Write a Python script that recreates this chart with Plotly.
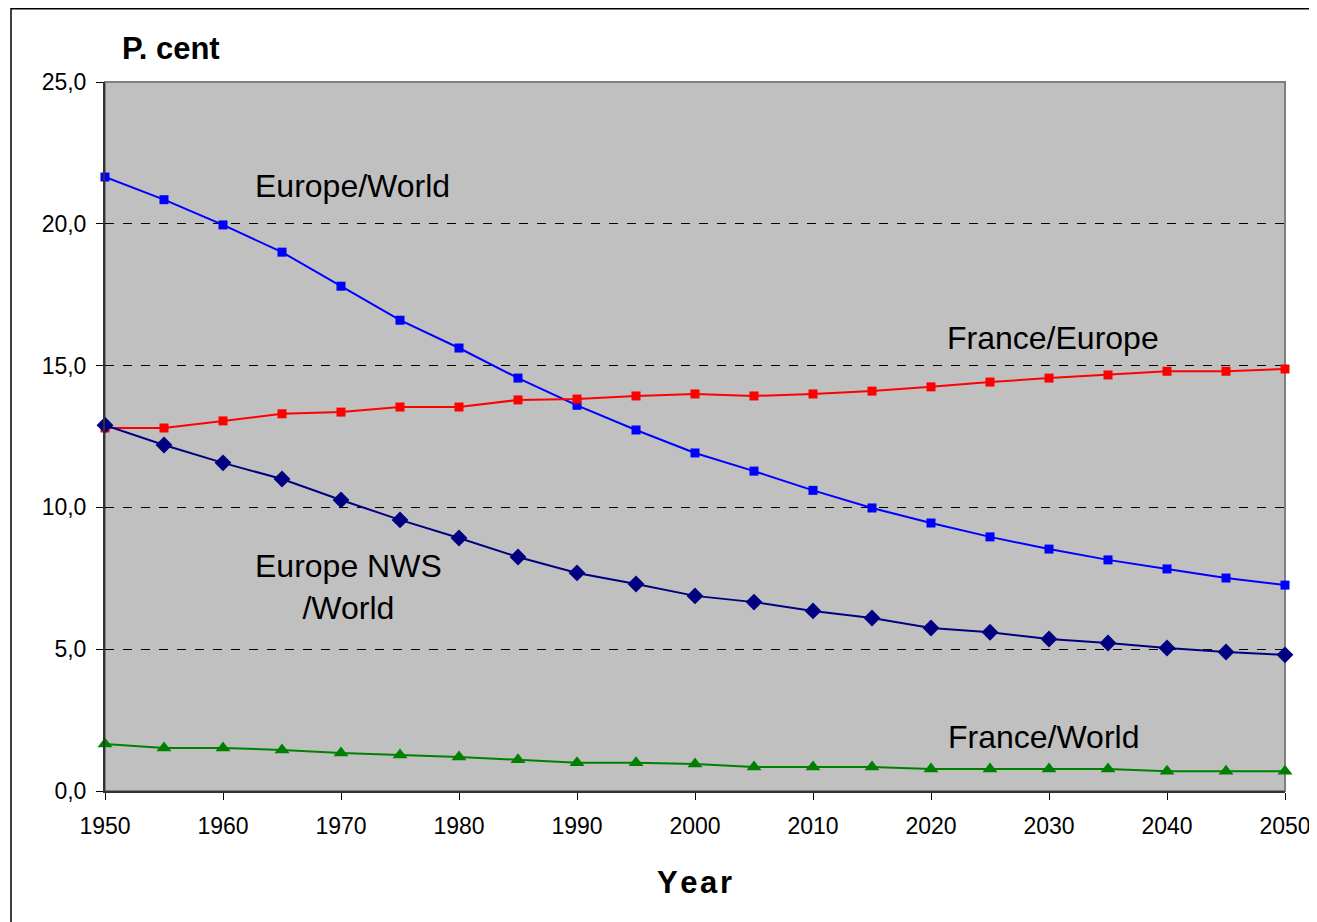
import plotly.graph_objects as go

years = list(range(1950, 2051, 5))
europe_world = [21.65, 20.85, 19.96, 19.0, 17.8, 16.6, 15.62, 14.56, 13.6, 12.73, 11.92,
                11.28, 10.6, 9.98, 9.45, 8.96, 8.53, 8.15, 7.83, 7.51, 7.26]
france_europe = [12.8, 12.8, 13.05, 13.3, 13.36, 13.54, 13.54, 13.79, 13.82, 13.93, 14.0,
                 13.93, 14.0, 14.1, 14.25, 14.42, 14.56, 14.67, 14.8, 14.8, 14.88]
europe_nws_world = [12.9, 12.2, 11.57, 11.0, 10.26, 9.56, 8.92, 8.25, 7.69, 7.3, 6.88,
                    6.66, 6.35, 6.1, 5.75, 5.6, 5.36, 5.22, 5.04, 4.9, 4.8]
france_world = [1.66, 1.52, 1.52, 1.45, 1.34, 1.27, 1.2, 1.1, 1.0, 1.0, 0.95,
                0.85, 0.85, 0.85, 0.78, 0.78, 0.78, 0.78, 0.7, 0.7, 0.7]

x_ticks = list(range(1950, 2051, 10))
y_ticks = [0, 5, 10, 15, 20, 25]

FONT = "Arial, Liberation Sans, sans-serif"

# page body has an 8px offset; plot area should sit at screen x 105..1285, y 82..791
OFF = 8
W, H = 1317 - OFF, 922 - OFF
PL, PT = 105 - OFF, 82 - OFF
PR = W - (1285 - OFF)
PB = H - (791 - OFF)
PW, PH = 1180, 709

fig = go.Figure()
fig.add_trace(go.Scatter(x=years, y=europe_world, mode="lines+markers", name="Europe/World",
                         line=dict(color="#0000FF", width=2),
                         marker=dict(symbol="square", size=9, color="#0000FF"), cliponaxis=False))
fig.add_trace(go.Scatter(x=years, y=france_europe, mode="lines+markers", name="France/Europe",
                         line=dict(color="#FF0000", width=2),
                         marker=dict(symbol="square", size=9, color="#FF0000"), cliponaxis=False))
fig.add_trace(go.Scatter(x=years, y=europe_nws_world, mode="lines+markers", name="Europe NWS/World",
                         line=dict(color="#000080", width=2),
                         marker=dict(symbol="diamond", size=13, color="#000080"), cliponaxis=False))
fig.add_trace(go.Scatter(x=years, y=france_world, mode="lines+markers", name="France/World",
                         line=dict(color="#008000", width=2),
                         marker=dict(symbol="triangle-up", size=13, color="#008000"), cliponaxis=False))

fig.update_layout(
    width=W, height=H,
    margin=dict(l=PL, r=PR, t=PT, b=PB, pad=0),
    paper_bgcolor="white", plot_bgcolor="#C0C0C0",
    showlegend=False,
    separators=", ",
    font=dict(family=FONT, size=23, color="black"),
    xaxis=dict(range=[1950, 2050], tickvals=x_ticks, showgrid=False, zeroline=False,
               automargin=False,
               showline=True, linecolor="#333333", linewidth=2,
               ticks="outside", ticklen=7, tickcolor="black", ticklabelstandoff=6,
               tickfont=dict(size=23, family=FONT)),
    yaxis=dict(range=[0, 25], tickvals=y_ticks, tickformat=".1f", automargin=False,
               showgrid=True, gridcolor="black", griddash="dash", gridwidth=1,
               zeroline=False, showline=True, linecolor="#333333", linewidth=2,
               ticks="outside", ticklen=7, tickcolor="black", ticklabelstandoff=5,
               tickfont=dict(size=23, family=FONT)),
)

# plot-area grey border and outer chart frame
fig.add_shape(type="rect", xref="paper", yref="paper", x0=0, y0=0, x1=1, y1=1,
              line=dict(color="#808080", width=2), layer="below")
fig.add_shape(type="rect", xref="paper", yref="paper",
              x0=(11 - 105) / PW, x1=(1330 - 105) / PW,
              y0=(791 - 930) / PH, y1=(791 - 8.8) / PH,
              line=dict(color="black", width=1.5))

ann_font = dict(family=FONT, size=32, color="black")
fig.add_annotation(x=1971, y=21.33, text="Europe/World", showarrow=False, font=ann_font)
fig.add_annotation(x=2030.3, y=15.97, text="France/Europe", showarrow=False, font=ann_font)
fig.add_annotation(x=1970.6, y=7.19, text="Europe NWS<br>/World", showarrow=False, font=ann_font)
fig.add_annotation(x=2029.5, y=1.9, text="France/World", showarrow=False, font=ann_font)
fig.add_annotation(xref="paper", yref="paper", x=(120 - 105) / PW, y=(791 - 48) / PH,
                   xanchor="left", yanchor="middle", text="<b>P. cent</b>", showarrow=False,
                   font=dict(family=FONT, size=31, color="black"))
fig.add_annotation(xref="paper", yref="paper", x=(694 - 105) / PW, y=(791 - 882) / PH,
                   xanchor="center", yanchor="middle",
                   text="<b>Y\u200ae\u200aa\u200ar</b>", showarrow=False,
                   font=dict(family=FONT, size=31, color="black"))

fig.write_html("out.html")
